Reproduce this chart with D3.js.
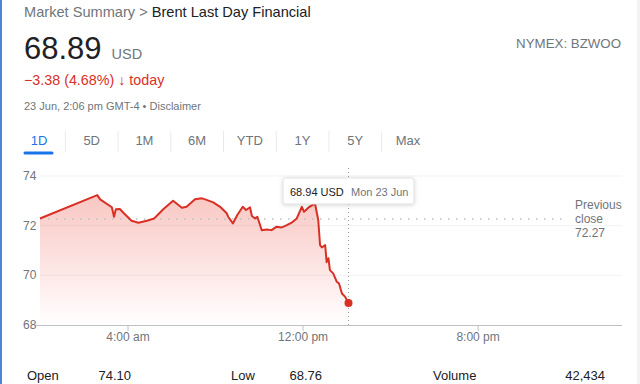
<!DOCTYPE html>
<html>
<head>
<meta charset="utf-8">
<script src="https://cdn.jsdelivr.net/npm/d3@7"></script>
<style>
  body { margin: 0; background: #fff; }
  svg { display: block; font-family: Arial, "Liberation Sans", sans-serif; }
</style>
</head>
<body>
<svg width="640" height="384"></svg>
<script>
// intraday prices, 23 Jun (hh:mm, USD)
var times = ["00:00","02:37","02:45","03:17","03:23","03:28","03:39","03:50","04:11","04:30",
  "04:53","05:13","05:38","06:05","06:29","06:42","07:05","07:24","07:33","07:55",
  "08:14","08:32","08:36","08:49","09:01","09:16","09:25","09:36","09:41","09:50",
  "09:56","10:08","10:22","10:35","10:49","11:03","11:17","11:30","11:44","11:58",
  "12:04","12:18","12:34","12:43","12:48","12:53","13:02","13:06","13:11","13:15",
  "13:24","13:34","13:40","13:48","13:57","14:06"];
var prices = [72.29,73.23,73.06,72.74,72.36,72.66,72.67,72.50,72.20,72.12,
  72.20,72.29,72.66,73.00,72.72,72.76,73.06,73.10,73.06,72.94,
  72.76,72.50,72.36,72.09,72.43,72.76,72.63,72.74,72.39,72.29,
  72.36,71.82,71.85,71.82,71.96,71.93,72.02,72.12,72.29,72.76,
  72.56,72.75,72.90,72.23,71.22,71.12,71.22,70.53,70.69,70.21,
  70.08,69.74,69.67,69.27,69.13,68.89];
var previousClose = 72.27;
var yTicks = [68, 70, 72, 74];
var xTickTimes = ["04:00", "12:00", "20:00"];
var xTickLabels = ["4:00 am", "12:00 pm", "8:00 pm"];
var tabs = ["1D", "5D", "1M", "6M", "YTD", "1Y", "5Y", "Max"];
var statNames = ["Open", "Low", "Volume"];
var statValues = ["74.10", "68.76", "42,434"];

var svg = d3.select("svg");
var grey = "#70757a", dark = "#202124", red = "#d93025";

var parse = d3.timeParse("%Y-%m-%d %H:%M");
var data = times.map(function(t, i) { return {t: parse("2025-06-23 " + t), p: prices[i]}; });

var x = d3.scaleTime()
  .domain([parse("2025-06-23 00:00"), parse("2025-06-24 02:36")])
  .range([40, 622]);
var y = d3.scaleLinear().domain([68, 74]).range([325, 176]);

// page edges
svg.append("rect").attr("x", 0).attr("y", 0).attr("width", 2).attr("height", 384).attr("fill", "#4a86d8");
svg.append("rect").attr("x", 637).attr("y", 0).attr("width", 3).attr("height", 384).attr("fill", "#f1f3f4");

// header
var h = svg.append("text").attr("x", 24).attr("y", 17).attr("font-size", 14.6);
h.append("tspan").attr("fill", grey).text("Market Summary > ");
h.append("tspan").attr("fill", dark).text("Brent Last Day Financial");

var p = svg.append("text").attr("x", 24).attr("y", 59);
p.append("tspan").attr("font-size", 31).attr("fill", dark).text("68.89");
p.append("tspan").attr("font-size", 14.5).attr("fill", grey).attr("dx", 10).text("USD");

var ch = svg.append("text").attr("x", 24).attr("y", 85).attr("font-size", 14.3).attr("fill", red);
ch.append("tspan").text("\u22123.38 (4.68%) ");
ch.append("tspan").attr("font-weight", "bold").text("\u2193");
ch.append("tspan").text(" today");
svg.append("text").attr("x", 24).attr("y", 110).attr("font-size", 11).attr("fill", grey)
  .text("23 Jun, 2:06 pm GMT-4 \u2022 Disclaimer");
svg.append("text").attr("x", 621).attr("y", 48).attr("font-size", 13.3).attr("fill", grey)
  .attr("text-anchor", "end").text("NYMEX: BZWOO");

// range tabs
var tabX = d3.scalePoint().domain(tabs).range([39, 408]);
svg.selectAll(".tab").data(tabs).enter().append("text")
  .attr("class", "tab")
  .attr("x", function(d) { return tabX(d); })
  .attr("y", 145).attr("font-size", 13).attr("text-anchor", "middle")
  .attr("fill", function(d, i) { return i == 0 ? "#1a73e8" : grey; })
  .text(function(d) { return d; });
svg.selectAll(".sep").data(tabs.slice(1)).enter().append("line")
  .attr("class", "sep")
  .attr("x1", function(d) { return tabX(d) - tabX.step() / 2; })
  .attr("x2", function(d) { return tabX(d) - tabX.step() / 2; })
  .attr("y1", 131).attr("y2", 152).attr("stroke", "#e8eaed");
svg.append("line").attr("x1", 25).attr("x2", 52).attr("y1", 153).attr("y2", 153)
  .attr("stroke", "#1a73e8").attr("stroke-width", 3).attr("stroke-linecap", "round");

// grid + y labels
var g = svg.append("g");
g.selectAll(".grid").data(yTicks.slice(1)).enter().append("line")
  .attr("x1", 40).attr("x2", 622)
  .attr("y1", function(d) { return y(d); }).attr("y2", function(d) { return y(d); })
  .attr("stroke", "#f1f3f4");
g.selectAll(".ylab").data(yTicks).enter().append("text")
  .attr("x", 23).attr("y", function(d) { return y(d) + 4; })
  .attr("font-size", 12).attr("fill", grey).text(function(d) { return d; });

// area gradient
var defs = svg.append("defs");
var grad = defs.append("linearGradient").attr("id", "fade")
  .attr("gradientUnits", "userSpaceOnUse").attr("x1", 0).attr("x2", 0)
  .attr("y1", y(73.2)).attr("y2", y(68));
grad.append("stop").attr("offset", "0%").attr("stop-color", "#ea4335").attr("stop-opacity", 0.3);
grad.append("stop").attr("offset", "100%").attr("stop-color", "#ea4335").attr("stop-opacity", 0);

var area = d3.area().x(function(d) { return x(d.t); }).y0(y(68)).y1(function(d) { return y(d.p); });
var line = d3.line().x(function(d) { return x(d.t); }).y(function(d) { return y(d.p); });

g.append("path").datum(data).attr("d", area).attr("fill", "url(#fade)");

// previous close
g.append("line").attr("x1", 40).attr("x2", 566)
  .attr("y1", y(previousClose)).attr("y2", y(previousClose))
  .attr("stroke", "#bdc1c6").attr("stroke-width", 1.5).attr("stroke-dasharray", "1.5,6.5");
var pc = g.append("text").attr("x", 575).attr("font-size", 12).attr("fill", grey);
pc.append("tspan").attr("x", 575).attr("y", 209).text("Previous");
pc.append("tspan").attr("x", 575).attr("y", 223).text("close");
pc.append("tspan").attr("x", 575).attr("y", 237).text(previousClose);

g.append("path").datum(data).attr("d", line).attr("fill", "none")
  .attr("stroke", red).attr("stroke-width", 2).attr("stroke-linejoin", "round");

// x axis
var xAxis = d3.axisBottom(x)
  .tickValues(xTickTimes.map(function(t) { return parse("2025-06-23 " + t); }))
  .tickFormat(function(d, i) { return xTickLabels[i]; })
  .tickSize(6).tickSizeOuter(0);
var ax = g.append("g").attr("transform", "translate(0," + y(68) + ")").call(xAxis);
ax.select(".domain").attr("stroke", "#bdc1c6").attr("d", "M36,0.5H622");
ax.selectAll(".tick line").attr("stroke", "#bdc1c6");
ax.selectAll(".tick text").attr("fill", grey).attr("font-size", 12)
  .attr("font-family", "Arial, 'Liberation Sans', sans-serif").attr("dy", "0.6em");

// crosshair + last point
var last = data[data.length - 1];
g.append("line").attr("x1", x(last.t)).attr("x2", x(last.t)).attr("y1", 168).attr("y2", y(68))
  .attr("stroke", "#9aa0a6").attr("stroke-dasharray", "1,3");
g.append("circle").attr("cx", x(last.t)).attr("cy", y(last.p)).attr("r", 4).attr("fill", red);

// tooltip
var tip = g.append("g").attr("transform", "translate(283,178)");
tip.append("rect").attr("width", 131).attr("height", 26).attr("rx", 2)
  .attr("fill", "#fff").attr("stroke", "#e3e3e3")
  .style("filter", "drop-shadow(0 1px 2px rgba(0,0,0,0.15))");
tip.append("text").attr("x", 7).attr("y", 18).attr("font-size", 11).attr("fill", dark).text("68.94 USD");
tip.append("text").attr("x", 68).attr("y", 18).attr("font-size", 11).attr("fill", grey).text("Mon 23 Jun");

// stats row
var statX = [27, 231, 433], statEnd = [131, 322, 605];
svg.selectAll(".sname").data(statNames).enter().append("text")
  .attr("x", function(d, i) { return statX[i]; }).attr("y", 380)
  .attr("font-size", 13).attr("fill", dark).text(function(d) { return d; });
svg.selectAll(".sval").data(statValues).enter().append("text")
  .attr("x", function(d, i) { return statEnd[i]; }).attr("y", 380)
  .attr("text-anchor", "end").attr("font-size", 13).attr("fill", dark).text(function(d) { return d; });
</script>
</body>
</html>
